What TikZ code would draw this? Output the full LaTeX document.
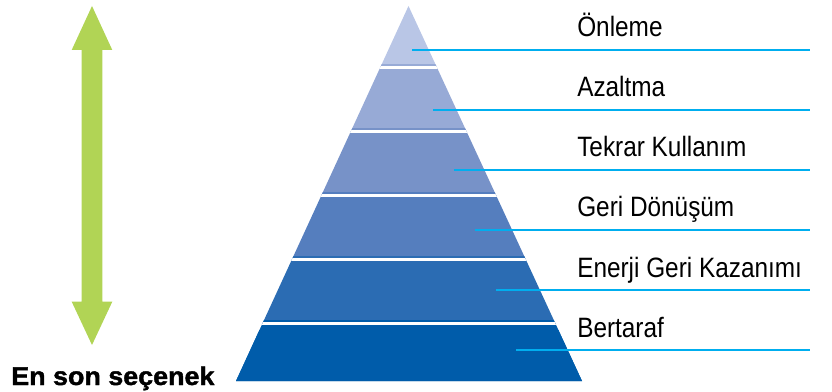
\documentclass[tikz,border=0pt]{standalone}
\usepackage{fontspec}
\setmainfont{Liberation Sans}
\newfontfamily\lblfont[FakeStretch=0.87]{Liberation Sans}
\newfontfamily\capfont[FakeStretch=1.05,FakeBold=1.5]{Liberation Sans}
\usepackage{tikz}
\definecolor{arrowgreen}{HTML}{B1D455}
\definecolor{leadercyan}{HTML}{00AEEF}
\definecolor{layerA}{HTML}{B9C6E6}
\definecolor{layerB}{HTML}{97AAD6}
\definecolor{layerC}{HTML}{7792C8}
\definecolor{layerD}{HTML}{557EBE}
\definecolor{layerE}{HTML}{2B6CB3}
\definecolor{layerF}{HTML}{005CAA}
\tikzset{
	leader/.style={leadercyan,line width=1.3pt},
	lbl/.style={anchor=base west,inner sep=0pt,font=\lblfont\fontsize{21pt}{24pt}\selectfont},
	caption/.style={anchor=base west,inner sep=0pt,font=\capfont\bfseries\fontsize{19.2pt}{22pt}\selectfont}
}

\begin{document}
\begin{tikzpicture}[x=0.75pt,y=-0.75pt]
	\useasboundingbox (0,0) rectangle (832,392);
	\fill[arrowgreen] (92,6) -- (112.3,50) -- (102.3,50) -- (102.3,301.7) -- (112.3,301.7) -- (92,345)
		-- (71.7,301.7) -- (81.7,301.7) -- (81.7,50) -- (71.7,50) -- cycle;
	\begin{scope}
		\clip (408.5,6) -- (582,381) -- (236,381) -- cycle;
		\foreach \c [count=\i from 0] in {layerA,layerB,layerC,layerD,layerE,layerF}{
			\fill[\c] (230,{64*\i}) rectangle (590,{64*\i+68});}
		\fill[layerF] (230,330) rectangle (590,390);
		\foreach \i in {1,...,5}{
			\draw[white,line width=2.25pt] (230,{3.8+64*\i}) -- (590,{3.8+64*\i});}
	\end{scope}
	\foreach \txt [count=\i from 0] in {Önleme,Azaltma,Tekrar Kullanım,Geri Dönüşüm,Enerji Geri Kazanımı,Bertaraf}{
		\coordinate (s\i) at ({412.3+20.8*\i},{50+60*\i});
		\coordinate (e\i) at (810,{50+60*\i});
		\draw[leader] (s\i) -- (e\i);
		\node[lbl] (l\i) at (577,{37+60*\i}) {\txt};}
	\node[caption] (last) at (11,385) {En son seçenek};
\end{tikzpicture}
\end{document}
